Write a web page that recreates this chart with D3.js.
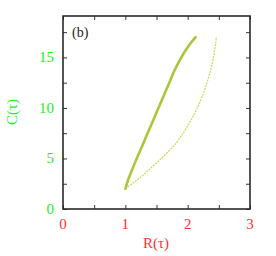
<!DOCTYPE html>
<html>
<head>
<meta charset="utf-8">
<script src="https://cdn.jsdelivr.net/npm/d3@7"></script>
<style>
  body { margin: 0; background: #fff; }
  text { font-family: "Liberation Serif", "DejaVu Serif", serif; }
</style>
</head>
<body>
<div id="chart"></div>
<script>
let svgWidth = 276;
let svgHeight = 256;

let margin = { top: 16, right: 26, bottom: 47, left: 63 };

let width = svgWidth - margin.left - margin.right;
let height = svgHeight - margin.top - margin.bottom;

// data
let xTicks = [0, 1, 2, 3];
let yTicks = [0, 5, 10, 15];
let thickR = [1.0, 1.02, 1.045, 1.10, 1.152, 1.232, 1.312, 1.392, 1.472, 1.552, 1.632, 1.712, 1.792, 1.872, 1.952, 2.04, 2.128];
let thickC = [2.0, 2.4, 2.9, 3.75, 4.54, 5.7, 6.84, 8.0, 9.14, 10.3, 11.45, 12.6, 13.75, 14.7, 15.56, 16.35, 17.0];
let thinR = [1.0, 1.13, 1.259, 1.39, 1.525, 1.66, 1.792, 1.89, 1.979, 2.065, 2.139, 2.21, 2.272, 2.325, 2.368, 2.405, 2.432, 2.45, 2.459];
let thinC = [2.0, 2.6, 3.22, 3.95, 4.70, 5.5, 6.35, 7.15, 8.0, 8.9, 9.8, 10.8, 11.78, 12.8, 13.75, 14.7, 15.7, 16.4, 17.04];

let svg = d3.select("#chart")
    .append("svg")
    .attr("width", svgWidth)
    .attr("height", svgHeight);

let chartGroup = svg.append("g")
    .attr("transform", `translate(${margin.left}, ${margin.top})`);

let x = d3.scaleLinear().domain([0, 3]).range([0, width]);
let y = d3.scaleLinear().domain([0, 19.1]).range([height, 0]);

// inward ticks on all four sides
let minorX = d3.range(0, 3.01, 0.5);
let minorY = d3.range(0, 19, 2.5);

chartGroup.append("g")
    .attr("transform", `translate(0, ${height})`)
    .call(d3.axisTop(x).tickValues(minorX).tickSize(4).tickFormat(""));
chartGroup.append("g")
    .call(d3.axisBottom(x).tickValues(minorX).tickSize(4).tickFormat(""));
chartGroup.append("g")
    .call(d3.axisRight(y).tickValues(minorY).tickSize(4).tickFormat(""));
chartGroup.append("g")
    .attr("transform", `translate(${width}, 0)`)
    .call(d3.axisLeft(y).tickValues(minorY).tickSize(4).tickFormat(""));

chartGroup.selectAll(".domain").remove();
chartGroup.selectAll(".tick line").attr("stroke", "#333").attr("stroke-width", 1);

chartGroup.append("rect")
    .attr("width", width)
    .attr("height", height)
    .attr("fill", "none")
    .attr("stroke", "#2a2a2a")
    .attr("stroke-width", 1.6);

// tick labels
chartGroup.selectAll(".xlab")
    .data(xTicks)
    .enter()
    .append("text")
    .attr("x", d => x(d))
    .attr("y", height + 20)
    .attr("text-anchor", "middle")
    .attr("font-size", 15)
    .attr("fill", "#ff3333")
    .text(d => d);

chartGroup.selectAll(".ylab")
    .data(yTicks)
    .enter()
    .append("text")
    .attr("x", -9)
    .attr("y", d => y(d) + 5)
    .attr("text-anchor", "end")
    .attr("font-size", 15)
    .attr("fill", "#22ee22")
    .text(d => d);

// axis titles
svg.append("text")
    .attr("x", 156)
    .attr("y", 248)
    .attr("text-anchor", "middle")
    .attr("font-size", 15)
    .attr("fill", "#ff3333")
    .text("R(τ)");

svg.append("text")
    .attr("transform", "translate(17, 112) rotate(-90)")
    .attr("text-anchor", "middle")
    .attr("font-size", 15)
    .attr("fill", "#22ee22")
    .text("C(τ)");

chartGroup.append("text")
    .attr("x", 9)
    .attr("y", 21)
    .attr("font-size", 14)
    .attr("fill", "#222")
    .text("(b)");

let line = d3.line()
    .x(d => x(d[0]))
    .y(d => y(d[1]))
    .curve(d3.curveCatmullRom);

chartGroup.append("path")
    .datum(thinR.map((r, i) => [r, thinC[i]]))
    .attr("d", line)
    .attr("fill", "none")
    .attr("stroke", "#c4de52")
    .attr("stroke-width", 1.2)
    .attr("stroke-dasharray", "2,1");

chartGroup.append("path")
    .datum(thickR.map((r, i) => [r, thickC[i]]))
    .attr("d", line)
    .attr("fill", "none")
    .attr("stroke", "#a8c83a")
    .attr("stroke-width", 2.6)
    .attr("stroke-linecap", "round");
</script>
</body>
</html>
